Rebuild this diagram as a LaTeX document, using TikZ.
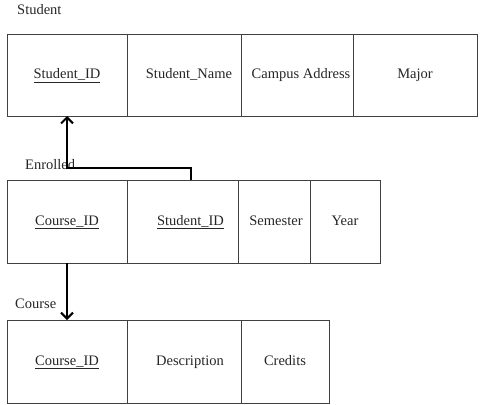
\documentclass[tikz,border=0pt]{standalone}
\usepackage{fontspec}
\setmainfont{Liberation Serif}
\usetikzlibrary{arrows.meta}
\begin{document}
\begin{tikzpicture}[x=1pt,y=-1pt,
  cell/.style={draw=black!75,line width=0.9pt,anchor=north west,inner sep=0pt,outer sep=0pt,
    font=\fontsize{14.5}{16}\selectfont,text=black!85,text height=10pt,text depth=3pt},
  title/.style={anchor=west,inner sep=0pt,font=\fontsize{14.5}{16}\selectfont,text=black!85},
  fk/.style={line width=2pt,-{Straight Barb[length=6pt,width=12pt,line width=2pt]}}]
\useasboundingbox (0,0) rectangle (484,404);
% Student
\node[title] (tS) at (17,10) {Student};
\node[cell,minimum width=120,minimum height=82] (s1) at (7,34) {\underline{Student\_ID}};
\node[cell,minimum width=114,minimum height=82] (s2) at (127,34) {\hspace*{10pt}Student\_Name};
\node[cell,minimum width=112,minimum height=82] (s3) at (241,34) {\hspace*{8pt}Campus Address};
\node[cell,minimum width=124,minimum height=82] (s4) at (353,34) {Major};
% Enrolled
\node[title] (tE) at (25,165) {Enrolled};
\node[cell,minimum width=120,minimum height=83] (e1) at (7,180) {\underline{Course\_ID}};
\node[cell,minimum width=111,minimum height=83] (e2) at (127,180) {\hspace*{16pt}\underline{Student\_ID}};
\node[cell,minimum width=72,minimum height=83] (e3) at (238,180) {\hspace*{4pt}Semester};
\node[cell,minimum width=70,minimum height=83] (e4) at (310,180) {Year};
% Course
\node[title] (tC) at (15,304) {Course};
\node[cell,minimum width=120,minimum height=83] (c1) at (7,320) {\underline{Course\_ID}};
\node[cell,minimum width=114,minimum height=83] (c2) at (127,320) {\hspace*{12pt}Description};
\node[cell,minimum width=88,minimum height=83] (c3) at (241,320) {Credits};
% foreign keys
\draw[fk] ([xshift=8]e2.north) -- ++(0,-12) -| (s1.south);
\draw[fk] (e1.south) -- (c1.north);
\end{tikzpicture}
\end{document}
